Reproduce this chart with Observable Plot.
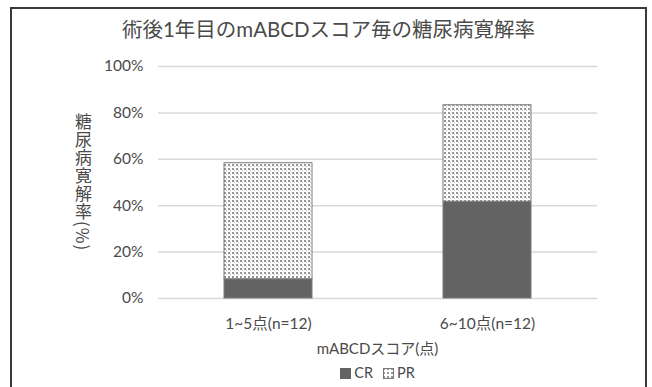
<!DOCTYPE html>
<html>
<head>
<meta charset="utf-8">
<script src="https://cdn.jsdelivr.net/npm/d3@7"></script>
<script src="https://cdn.jsdelivr.net/npm/@observablehq/plot@0.6"></script>
<style>
  html, body { margin: 0; padding: 0; background: #fff; }
  #wrap { position: relative; width: 652px; height: 387px; overflow: hidden; font-family: Lato, "Noto Sans CJK JP", sans-serif; color: #4a4a4a; }
  #frame { position: absolute; left: 10px; top: 7px; width: 637px; height: 420px; border: 2px solid #3a3a3a; box-sizing: border-box; }
  #title { position: absolute; left: 11px; width: 635px; top: 15px; text-align: center; font-size: 20.5px; line-height: 28px; color: #4a4a4a; }
  #ylabel { position: absolute; left: 74px; top: 113px; writing-mode: vertical-rl; font-size: 17px; line-height: 19px; letter-spacing: 1px; color: #4a4a4a; font-family: "Noto Sans CJK JP", sans-serif; }
  #xlabel { position: absolute; left: 158px; width: 439px; top: 338px; text-align: center; font-size: 15px; line-height: 20px; }
  #legend { position: absolute; left: 158px; width: 439px; top: 363px; text-align: center; font-size: 14.5px; line-height: 20px; }
  .sw { display: inline-block; width: 11px; height: 11px; vertical-align: -1px; margin-right: 3px; }
  #chart { position: absolute; left: 0; top: 0; }
</style>
</head>
<body>
<div id="wrap">
  <div id="frame"></div>
  <div id="chart"></div>
  <div id="title"></div>
  <div id="ylabel"></div>
  <div id="xlabel"></div>
  <div id="legend"></div>
</div>
<script>
const titleText = "術後1年目のmABCDスコア毎の糖尿病寛解率";
const yLabelText = "糖尿病寛解率(%)";
const xLabelText = "mABCDスコア(点)";
const categories = ["1~5点(n=12)", "6~10点(n=12)"];
const series = ["CR", "PR"];
const crValues = [8.3, 41.7];
const prValues = [50.0, 41.6];
const yTicks = [0, 20, 40, 60, 80, 100];

const data = [];
categories.forEach((c, i) => {
  data.push({cat: c, series: "CR", value: crValues[i]});
  data.push({cat: c, series: "PR", value: prValues[i]});
});

const chart = Plot.plot({
  width: 652,
  height: 340,
  marginLeft: 158,
  marginRight: 55,
  marginTop: 66,
  marginBottom: 42,
  style: {fontFamily: 'Lato, "Noto Sans CJK JP", sans-serif', fontSize: "15.5px", color: "#4a4a4a", background: "transparent"},
  x: {domain: categories, paddingInner: 0.6, paddingOuter: 0.3, tickSize: 0, tickPadding: 19, label: null},
  y: {domain: [0, 100], ticks: yTicks, tickFormat: d => d + "%", tickSize: 0, tickPadding: 15, label: null},
  color: {domain: series, range: ["#636363", "url(#dots)"]},
  marks: [
    Plot.ruleY(yTicks, {stroke: "#d9d9d9", strokeWidth: 1.5}),
    Plot.barY(data, {x: "cat", y: "value", fill: "series", stroke: "#7a7a7a", strokeWidth: 1})
  ]
});

// dotted pattern for PR
const svg = d3.select(chart.tagName.toLowerCase() === "svg" ? chart : chart.querySelector("svg"));
const defs = svg.insert("defs", ":first-child");
const pat = defs.append("pattern").attr("id", "dots").attr("patternUnits", "userSpaceOnUse").attr("width", 4).attr("height", 4);
pat.append("rect").attr("width", 4).attr("height", 4).attr("fill", "#ffffff");
pat.append("rect").attr("x", 0).attr("y", 0).attr("width", 2).attr("height", 2).attr("fill", "#959595");
pat.append("rect").attr("x", 2).attr("y", 2).attr("width", 1).attr("height", 1).attr("fill", "#b5b5b5");

document.getElementById("chart").appendChild(chart);
document.getElementById("title").textContent = titleText;
document.getElementById("ylabel").textContent = yLabelText;
document.getElementById("xlabel").textContent = xLabelText;

const legend = document.getElementById("legend");
const legendSvgPat = '<svg width="11" height="11" style="display:inline-block;vertical-align:-1px;margin-right:3px"><defs><pattern id="dotsL" patternUnits="userSpaceOnUse" width="4" height="4"><rect width="4" height="4" fill="#fff"/><rect width="2" height="2" fill="#959595"/></pattern></defs><rect x="0.5" y="0.5" width="10" height="10" fill="url(#dotsL)" stroke="#7a7a7a"/></svg>';
legend.innerHTML =
  '<span class="sw" style="background:#636363"></span>' + series[0] +
  '<span style="display:inline-block;width:10px"></span>' + legendSvgPat + series[1];
</script>
</body>
</html>
